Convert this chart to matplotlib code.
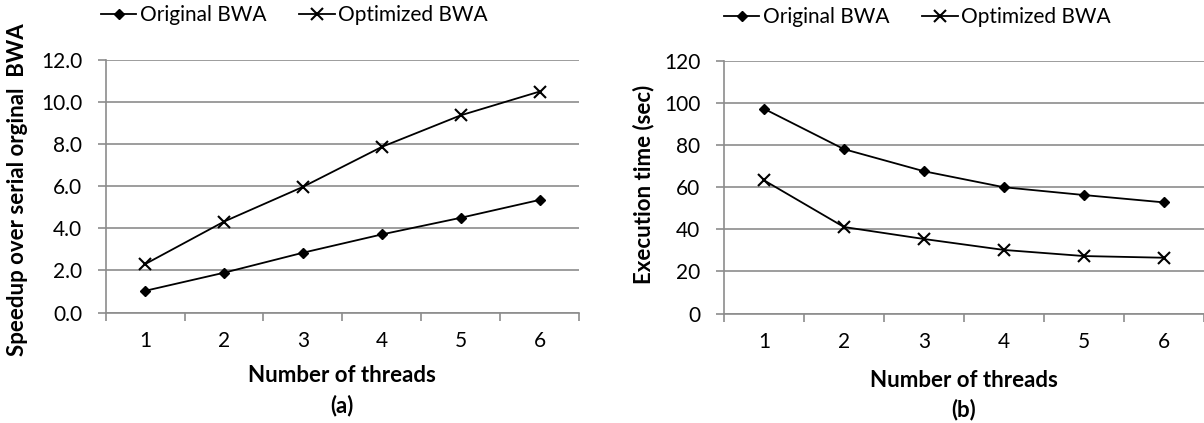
import matplotlib
matplotlib.use("Agg")
import matplotlib.pyplot as plt
from matplotlib.ticker import FixedLocator, NullFormatter, FixedFormatter

plt.rcParams['font.family'] = ['Lato', 'DejaVu Sans']

threads = [1, 2, 3, 4, 5, 6]
thread_labels = ["1", "2", "3", "4", "5", "6"]

# (a) speedup over serial original BWA
speedup_original = [1.03, 1.89, 2.84, 3.71, 4.50, 5.35]
speedup_optimized = [2.30, 4.32, 5.97, 7.87, 9.37, 10.50]

# (b) execution time in seconds
time_original = [97.3, 78.1, 67.6, 60.0, 56.3, 52.8]
time_optimized = [63.3, 41.1, 35.4, 30.2, 27.3, 26.5]

series_names = ["Original BWA", "Optimized BWA"]

W, H = 1204, 423
fig = plt.figure(figsize=(W / 100, H / 100), dpi=100)

grid_col = "#8c8c8c"
tick_fs = 15
label_fs = 16
legend_fs = 15


def style_axes(ax, yticks, fmt):
    ax.set_xlim(0.5, 6.5)
    ax.set_ylim(yticks[0], yticks[-1])
    ax.set_yticks(yticks)
    ax.set_yticklabels([fmt.format(v) for v in yticks], fontsize=tick_fs)
    ax.yaxis.grid(True, color=grid_col, linewidth=1.2)
    ax.set_axisbelow(True)
    # category boundaries as major ticks, labels centred on categories
    ax.xaxis.set_major_locator(FixedLocator([t - 0.5 for t in threads] + [threads[-1] + 0.5]))
    ax.xaxis.set_major_formatter(NullFormatter())
    ax.xaxis.set_minor_locator(FixedLocator(threads))
    ax.xaxis.set_minor_formatter(FixedFormatter(thread_labels))
    ax.tick_params(axis='x', which='major', length=6, width=1.2, color=grid_col, direction='out')
    ax.tick_params(axis='x', which='minor', length=0, labelsize=tick_fs, pad=13)
    ax.tick_params(axis='y', length=6, width=1.2, color=grid_col, direction='out', pad=11)
    for s in ("top", "right"):
        ax.spines[s].set_visible(False)
    for s in ("left", "bottom"):
        ax.spines[s].set_color(grid_col)
        ax.spines[s].set_linewidth(1.2)


def draw(ax, orig, opt):
    l1, = ax.plot(threads, orig, color="black", linewidth=1.3, marker="D",
                  markersize=5.5, clip_on=False)
    l2, = ax.plot(threads, opt, color="black", linewidth=1.3, marker="x",
                  markersize=8, markeredgewidth=1.5, clip_on=False)
    return l1, l2


def legend(handles, x, y):
    fig.legend(handles, series_names, loc="center left", bbox_to_anchor=(x / W, 1 - y / H),
               ncol=2, frameon=False, fontsize=legend_fs, handlelength=1.7,
               handletextpad=0.15, columnspacing=1.6, borderpad=0, borderaxespad=0)


# (a)
ax1 = fig.add_axes([105.7 / W, 1 - 312.5 / H, (579 - 105.7) / W, (312.5 - 60) / H])
h = draw(ax1, speedup_original, speedup_optimized)
style_axes(ax1, [0, 2, 4, 6, 8, 10, 12], "{:.1f}")
fig.text(342 / W, 1 - 376 / H, "Number of threads", ha="center", va="center",
         fontsize=label_fs, fontweight="bold")
fig.text(342 / W, 1 - 406 / H, "(a)", ha="center", va="center",
         fontsize=label_fs, fontweight="bold")
fig.text(18 / W, 1 - 190 / H, "Speedup over serial orginal  BWA", rotation=90,
         ha="center", va="center", fontsize=label_fs, fontweight="bold")
legend(h, 101, 15)

# (b)
ax2 = fig.add_axes([724 / W, 1 - 313.5 / H, (1204 - 724) / W, (313.5 - 61) / H])
h2 = draw(ax2, time_original, time_optimized)
style_axes(ax2, [0, 20, 40, 60, 80, 100, 120], "{:d}")
fig.text(964 / W, 1 - 380 / H, "Number of threads", ha="center", va="center",
         fontsize=label_fs, fontweight="bold")
fig.text(964 / W, 1 - 410 / H, "(b)", ha="center", va="center",
         fontsize=label_fs, fontweight="bold")
fig.text(644 / W, 1 - 184 / H, "Execution time (sec)", rotation=90,
         ha="center", va="center", fontsize=label_fs, fontweight="bold")
legend(h2, 724, 17)

fig.savefig("out.png", dpi=100)
